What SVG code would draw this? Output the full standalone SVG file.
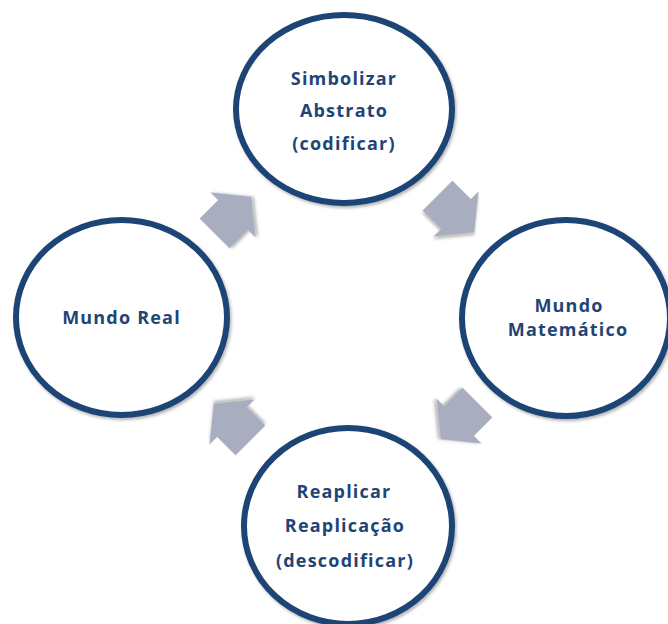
<svg xmlns="http://www.w3.org/2000/svg" width="668" height="624" viewBox="0 0 668 624">
  <defs>
    <filter id="shadow" x="-20%" y="-20%" width="140%" height="140%">
      <feDropShadow dx="1.5" dy="2" stdDeviation="1.5" flood-color="#000" flood-opacity="0.3"/>
    </filter>
    <path id="arrow" d="M-26,-21 L0,-21 L0,-32 L26,0 L0,32 L0,21 L-26,21 Z"/>
  </defs>
  <style>
    .node ellipse { fill: #ffffff; stroke: #1f4476; stroke-width: 6; filter: url(#shadow); }
    .node text { font-family: "Open Sans", "Liberation Sans", sans-serif; font-weight: bold; font-size: 18px; fill: #1f4476; text-anchor: middle; letter-spacing: 1.2px; }
    .conn use { fill: #a8aebf; filter: url(#shadow); }
  </style>
  <rect width="668" height="624" fill="#ffffff"/>
  <g id="connectors" class="conn">
    <use href="#arrow" transform="translate(233,215) rotate(-45)"/>
    <use href="#arrow" transform="translate(456,214) rotate(45)"/>
    <use href="#arrow" transform="translate(459,421) rotate(135)"/>
    <use href="#arrow" transform="translate(232,422) rotate(-135)"/>
  </g>
  <g id="node-top" class="node">
    <ellipse cx="344" cy="109" rx="108" ry="94"/>
    <text x="344" y="85">Simbolizar</text>
    <text x="344" y="117">Abstrato</text>
    <text x="344" y="150">(codificar)</text>
  </g>
  <g id="node-right" class="node">
    <ellipse cx="566" cy="318" rx="104" ry="98"/>
    <text x="569" y="312">Mundo</text>
    <text x="568" y="336">Matemático</text>
  </g>
  <g id="node-bottom" class="node">
    <ellipse cx="348" cy="526" rx="104" ry="98"/>
    <text x="344" y="498">Reaplicar</text>
    <text x="345" y="532">Reaplicação</text>
    <text x="345" y="567">(descodificar)</text>
  </g>
  <g id="node-left" class="node">
    <ellipse cx="121.5" cy="317.5" rx="105.5" ry="97.5"/>
    <text x="121.5" y="324">Mundo Real</text>
  </g>
</svg>
